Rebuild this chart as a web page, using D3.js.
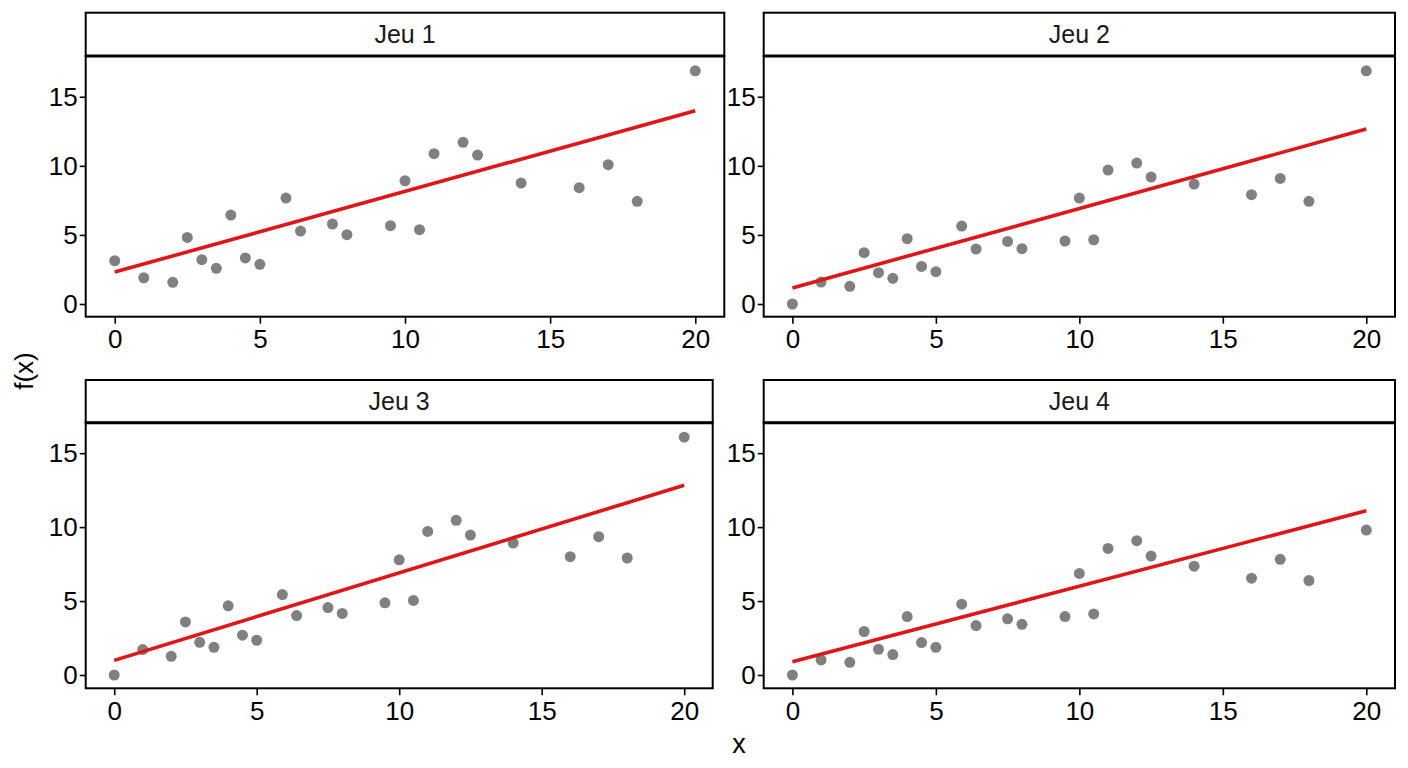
<!DOCTYPE html>
<html>
<head>
<meta charset="utf-8">
<script src="https://cdn.jsdelivr.net/npm/d3@7"></script>
<style>
  body { margin: 0; background: #fff; }
  svg { font-family: "Liberation Sans", Arial, sans-serif; }
</style>
</head>
<body>
<svg id="chart" width="1408" height="768"></svg>
<script>
// x values are shared by the four data sets
var xValues = [0, 1, 2, 2.5, 3, 3.5, 4, 4.5, 5, 5.9, 6.4, 7.5, 8, 9.5, 10, 10.5, 11, 12, 12.5, 14, 16, 17, 18, 20];

var jeu1 = [3.13, 1.90, 1.57, 4.82, 3.21, 2.58, 6.44, 3.33, 2.87, 7.67, 5.28, 5.79, 5.02, 5.67, 8.92, 5.38, 10.88, 11.70, 10.78, 8.75, 8.42, 10.08, 7.43, 16.88];
var jeu2 = [0.00, 1.59, 1.28, 3.71, 2.27, 1.86, 4.73, 2.72, 2.34, 5.64, 3.98, 4.53, 4.00, 4.56, 7.67, 4.65, 9.69, 10.20, 9.19, 8.68, 7.91, 9.09, 7.43, 16.88];
var jeu3 = [0.00, 1.72, 1.26, 3.59, 2.21, 1.87, 4.68, 2.69, 2.35, 5.44, 4.02, 4.56, 4.16, 4.88, 7.79, 5.04, 9.71, 10.46, 9.46, 8.92, 8.00, 9.35, 7.91, 16.08];
var jeu4 = [0.00, 1.02, 0.86, 2.94, 1.74, 1.38, 3.95, 2.19, 1.87, 4.79, 3.34, 3.80, 3.43, 3.95, 6.87, 4.13, 8.56, 9.08, 8.04, 7.36, 6.55, 7.82, 6.39, 9.80];

var panelNames = ["Jeu 1", "Jeu 2", "Jeu 3", "Jeu 4"];
var series = [jeu1, jeu2, jeu3, jeu4];

// fitted line (lm) read at x = 0 and x = 20
var fitAt0 = [2.31, 1.16, 0.99, 0.90];
var fitAt20 = [13.99, 12.66, 12.83, 11.11];

var xTicks = [0, 5, 10, 15, 20];
var yTicks = [0, 5, 10, 15];

// panel boxes (pixels) and y ranges per row
var layout = [
  { left: 85.7, right: 724.3, stripTop: 12.7, top: 56, bottom: 316.7, yDomain: [-0.92, 17.95] },
  { left: 763.7, right: 1395, stripTop: 12.7, top: 56, bottom: 316.7, yDomain: [-0.92, 17.95] },
  { left: 85.7, right: 712.7, stripTop: 380, top: 422.7, bottom: 688.3, yDomain: [-0.9, 17.06] },
  { left: 763.7, right: 1395, stripTop: 380, top: 422.7, bottom: 688.3, yDomain: [-0.9, 17.06] }
];

var svg = d3.select("#chart");

panelNames.forEach((name, i) => {
  var box = layout[i];
  var x = d3.scaleLinear().domain([-1, 21]).range([box.left, box.right]);
  var y = d3.scaleLinear().domain(box.yDomain).range([box.bottom, box.top]);
  var g = svg.append("g");

  // points
  g.selectAll("circle")
    .data(xValues.map((xv, j) => ({ x: xv, y: series[i][j] })))
    .enter()
    .append("circle")
    .attr("cx", d => x(d.x))
    .attr("cy", d => y(d.y))
    .attr("r", 5.5)
    .attr("fill", "#808080");

  // regression line
  var line = d3.line().x(d => x(d[0])).y(d => y(d[1]));
  g.append("path")
    .attr("d", line([[0, fitAt0[i]], [20, fitAt20[i]]]))
    .attr("fill", "none")
    .attr("stroke", "#e01515")
    .attr("stroke-width", 3.6);

  // panel border
  g.append("rect")
    .attr("x", box.left).attr("y", box.top)
    .attr("width", box.right - box.left).attr("height", box.bottom - box.top)
    .attr("fill", "none").attr("stroke", "#000").attr("stroke-width", 2);

  // strip
  g.append("rect")
    .attr("x", box.left).attr("y", box.stripTop)
    .attr("width", box.right - box.left).attr("height", box.top - box.stripTop)
    .attr("fill", "#fff").attr("stroke", "#000").attr("stroke-width", 2);
  g.append("line")
    .attr("x1", box.left).attr("x2", box.right)
    .attr("y1", box.top).attr("y2", box.top)
    .attr("stroke", "#000").attr("stroke-width", 3);
  g.append("text")
    .attr("x", (box.left + box.right) / 2)
    .attr("y", (box.stripTop + box.top) / 2)
    .attr("text-anchor", "middle")
    .attr("dominant-baseline", "central")
    .attr("font-size", 25)
    .attr("fill", "#1a1a1a")
    .text(name);

  // axes
  var xAxis = g.append("g")
    .attr("transform", `translate(0,${box.bottom})`)
    .call(d3.axisBottom(x).tickValues(xTicks).tickSize(7).tickPadding(6));
  var yAxis = g.append("g")
    .attr("transform", `translate(${box.left},0)`)
    .call(d3.axisLeft(y).tickValues(yTicks).tickSize(6).tickPadding(2));

  [xAxis, yAxis].forEach(ax => {
    ax.select(".domain").remove();
    ax.selectAll(".tick line").attr("stroke", "#000").attr("stroke-width", 1.6);
    ax.selectAll(".tick text")
      .attr("font-size", 26)
      .attr("font-family", "Liberation Sans, Arial, sans-serif")
      .attr("fill", "#000");
  });
});

// axis titles
svg.append("text")
  .attr("transform", "translate(33,371) rotate(-90)")
  .attr("text-anchor", "middle")
  .attr("font-size", 26)
  .text("f(x)");

svg.append("text")
  .attr("x", 739)
  .attr("y", 753)
  .attr("text-anchor", "middle")
  .attr("font-size", 27)
  .text("x");
</script>
</body>
</html>
